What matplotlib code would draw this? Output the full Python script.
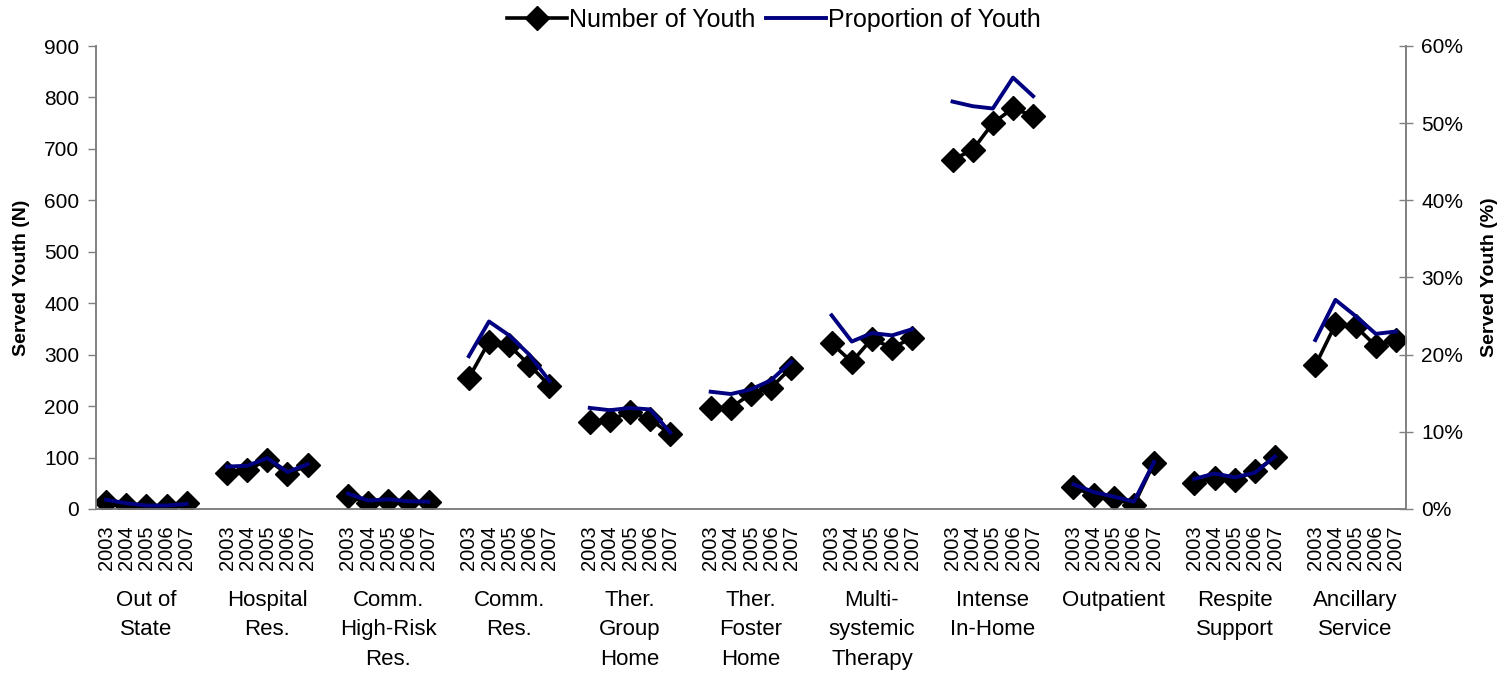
import matplotlib
matplotlib.use("Agg")
import matplotlib.pyplot as plt
from matplotlib.lines import Line2D
from matplotlib.ticker import FuncFormatter, MultipleLocator
import matplotlib.transforms as mtransforms

plt.rcParams['font.family'] = ['Liberation Sans', 'DejaVu Sans']

categories = ["Out of\nState", "Hospital\nRes.", "Comm.\nHigh-Risk\nRes.", "Comm.\nRes.",
              "Ther.\nGroup\nHome", "Ther.\nFoster\nHome", "Multi-\nsystemic\nTherapy",
              "Intense\nIn-Home", "Outpatient", "Respite\nSupport", "Ancillary\nService"]
years = ["2003", "2004", "2005", "2006", "2007"]

# Served youth counts per service, 2003-2007
number_of_youth = [
    [14, 8, 5, 6, 11],
    [70, 75, 96, 68, 85],
    [26, 12, 15, 14, 14],
    [255, 325, 318, 280, 240],
    [170, 173, 189, 174, 146],
    [197, 197, 224, 236, 275],
    [322, 286, 331, 313, 333],
    [679, 698, 750, 779, 764],
    [42, 27, 21, 8, 90],
    [50, 61, 57, 73, 101],
    [279, 359, 355, 317, 329],
]

# Share of served youth per service (%), 2003-2007
proportion_of_youth = [
    [1.2, 0.75, 0.45, 0.45, 0.65],
    [5.5, 5.6, 6.6, 4.8, 5.8],
    [2.0, 1.1, 1.25, 1.0, 0.95],
    [19.8, 24.3, 22.5, 20.0, 16.6],
    [13.1, 12.8, 13.1, 12.9, 9.9],
    [15.2, 14.9, 15.5, 16.7, 19.1],
    [25.1, 21.7, 22.8, 22.5, 23.3],
    [52.8, 52.2, 51.9, 55.9, 53.5],
    [3.2, 2.2, 1.6, 0.95, 6.1],
    [3.9, 4.6, 4.1, 4.7, 6.8],
    [21.9, 27.1, 25.0, 22.7, 23.0],
]

NAVY = "#000080"
AXIS_GRAY = "#808080"
slot = len(years) + 1  # five years plus one blank slot between services

fig = plt.figure(figsize=(15.03, 6.74), dpi=100)
ax = fig.add_axes([96 / 1503, 1 - 509 / 674, (1406 - 96) / 1503, (509 - 46) / 674])
ax2 = ax.twinx()

tick_pos, tick_lab = [], []
for g, (counts, props) in enumerate(zip(number_of_youth, proportion_of_youth)):
    xs = [g * slot + j for j in range(len(years))]
    ax.plot(xs, counts, color="black", lw=2.6, marker="D", ms=12,
            markerfacecolor="black", markeredgecolor="black", zorder=3)
    ax2.plot(xs, [p / 100 for p in props], color=NAVY, lw=2.8, zorder=4)
    tick_pos += xs
    tick_lab += years

n_slots = len(categories) * slot - 1
ax.set_xlim(-0.5, n_slots - 0.5)
ax.set_ylim(0, 900)
ax2.set_ylim(0, 0.6)
ax.yaxis.set_major_locator(MultipleLocator(100))
ax2.yaxis.set_major_locator(MultipleLocator(0.1))
ax2.yaxis.set_major_formatter(FuncFormatter(lambda v, _: f"{v * 100:.0f}%"))

ax.set_xticks(tick_pos)
ax.set_xticklabels(tick_lab, rotation=90, fontsize=14.5)
ax.tick_params(axis="x", length=0, pad=12)
ax.tick_params(axis="y", labelsize=15, direction="out", length=6, width=1,
               color=AXIS_GRAY, pad=6)
ax2.tick_params(axis="y", labelsize=15, direction="inout", length=10, width=1,
                color=AXIS_GRAY, pad=6)

for a in (ax, ax2):
    a.spines["top"].set_visible(False)
    for s in ("left", "right", "bottom"):
        a.spines[s].set_color(AXIS_GRAY)
        a.spines[s].set_linewidth(1.2)

ax.set_ylabel("Served Youth (N)", fontsize=14, fontweight="bold", labelpad=10)
ax2.set_ylabel("Served Youth (%)", fontsize=14, fontweight="bold", labelpad=13)

trans = mtransforms.blended_transform_factory(ax.transData, ax.transAxes)
for g, name in enumerate(categories):
    ax.text(g * slot + 2, -0.174, name, transform=trans, ha="center", va="top",
            fontsize=16, linespacing=1.55)

handles = [
    Line2D([], [], color="black", lw=2.6, marker="D", ms=12),
    Line2D([], [], color=NAVY, lw=2.8),
]
fig.legend(handles, ["Number of Youth", "Proportion of Youth"], loc="center",
           bbox_to_anchor=(0.515, 1 - 20 / 674), ncol=2, frameon=False,
           fontsize=18, handlelength=2.4, handletextpad=0.1, columnspacing=0.4)

fig.savefig("out.png", dpi=100)
